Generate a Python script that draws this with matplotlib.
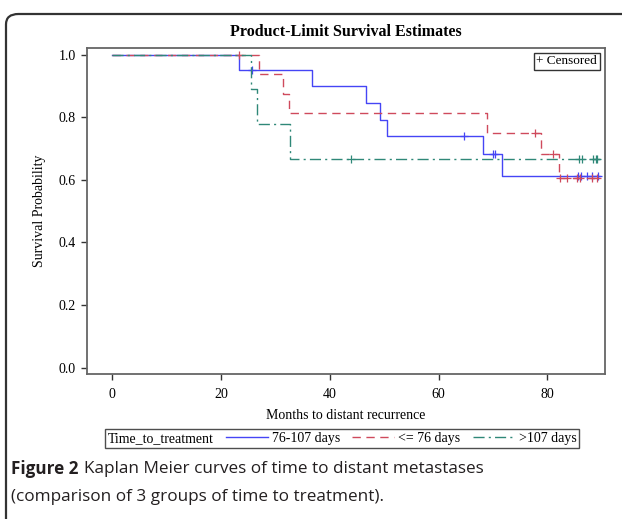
import numpy as np
import matplotlib.pyplot as plt
from matplotlib.lines import Line2D
from matplotlib.patches import FancyBboxPatch

# Kaplan-Meier step data (months, survival)
blue_t = [0, 23.3, 36.7, 46.6, 49.3, 50.5, 68.2, 71.6, 89.7]
blue_s = [1.0, 0.95, 0.90, 0.846, 0.792, 0.739, 0.682, 0.613, 0.613]
blue_cens = [25.8, 64.6, 70.1, 70.4, 85.7, 86.1, 87.2, 88.3, 89.3]

red_t = [0, 27.0, 31.5, 32.5, 69.0, 78.9, 82.2, 89.7]
red_s = [1.0, 0.9375, 0.875, 0.8125, 0.75, 0.682, 0.605, 0.605]
red_cens = [23.3, 77.8, 81.1, 82.4, 83.7, 85.4, 86.0, 88.3, 89.1]

teal_t = [0, 25.6, 26.6, 32.7, 89.7]
teal_s = [1.0, 0.889, 0.778, 0.667, 0.667]
teal_cens = [43.9, 85.9, 86.3, 88.4, 88.9, 89.2]

labels = ['76-107 days', '<= 76 days', '>107 days']
colors = ['#4545f5', '#cf4a5c', '#2f8878']
styles = ['-', (0, (6, 4)), (0, (8, 3, 1.5, 3))]

serif = 'Liberation Serif'

fig = plt.figure(figsize=(6.22, 5.19), dpi=100)
W, H = 622, 519

# outer rounded frame
frame = FancyBboxPatch((6 / W, -20 / H), 640 / W, (H - 14 + 20) / H,
                       boxstyle='round,pad=0,rounding_size=0.02',
                       transform=fig.transFigure, fc='none', ec='#333333', lw=1.6)
fig.patches.append(frame)

ax = fig.add_axes([87 / W, 1 - 374 / H, (605 - 87) / W, (374 - 48) / H])

def surv_at(t, s, x):
    idx = np.searchsorted(t, x, side='right') - 1
    return np.asarray(s)[idx]

lines = []
for t, s, c, col, ls, lab in [(blue_t, blue_s, blue_cens, colors[0], styles[0], labels[0]),
                               (red_t, red_s, red_cens, colors[1], styles[1], labels[1]),
                               (teal_t, teal_s, teal_cens, colors[2], styles[2], labels[2])]:
    ln, = ax.step(t, s, where='post', color=col, lw=1.0, linestyle=ls, label=lab)
    lines.append(ln)
    ax.plot(c, surv_at(t, s, c), linestyle='none', marker='+', color=col,
            markersize=6, markeredgewidth=0.9)

ax.set_xlim(-4.6, 90.6)
ax.set_ylim(-0.02, 1.021)
ax.set_xticks([0, 20, 40, 60, 80])
ax.set_yticks([0.0, 0.2, 0.4, 0.6, 0.8, 1.0])
ax.set_yticklabels(['0.0', '0.2', '0.4', '0.6', '0.8', '1.0'])
for sp in ax.spines.values():
    sp.set_color('#666666')
    sp.set_linewidth(1.3)
ax.tick_params(colors='#333333', labelsize=10, length=4, width=1, direction='out', pad=4)
ax.tick_params(axis='x', pad=6)
for lbl in ax.get_xticklabels() + ax.get_yticklabels():
    lbl.set_family(serif)
    lbl.set_color('black')

ax.set_title('Product-Limit Survival Estimates', fontsize=11.5, fontweight='bold',
             family=serif, pad=9)
ax.set_xlabel('Months to distant recurrence', fontsize=10, family=serif, labelpad=6)
ax.set_ylabel('Survival Probability', fontsize=10, family=serif, labelpad=9)

ax.text(0.985, 0.977, '+ Censored', transform=ax.transAxes, ha='right', va='top',
        fontsize=9.5, family=serif,
        bbox=dict(boxstyle='square,pad=0.2', fc='white', ec='#333333', lw=1))

blank = Line2D([], [], linestyle='none')
leg = fig.legend([blank] + lines, ['Time_to_treatment'] + labels, ncol=4,
                 loc='upper center', bbox_to_anchor=(342 / W, 1 - 429 / H),
                 prop={'family': serif, 'size': 10}, frameon=True, fancybox=False,
                 edgecolor='#222222', handlelength=3.0, handletextpad=0.3,
                 columnspacing=0.9, borderpad=0.2, borderaxespad=0)
leg.get_frame().set_linewidth(1.0)
# collapse the empty handle in front of the group name
try:
    col0 = leg._legend_handle_box.get_children()[0]
    row0 = col0.get_children()[0]
    row0.get_children()[0].width = 0
    row0.sep = 0
except Exception:
    pass

cap_style = dict(fontsize=12.3, family='Open Sans', color='#231f20')
cap1 = fig.text(11 / W, 1 - 469 / H, 'Figure 2', fontweight='bold', va='center', **cap_style)
ax.annotate('Kaplan Meier curves of time to distant metastases', xy=(1, 0.5),
            xycoords=cap1, xytext=(4, 0), textcoords='offset points',
            va='center', ha='left', annotation_clip=False, **cap_style)
fig.text(11 / W, 1 - 497 / H, '(comparison of 3 groups of time to treatment).',
         va='center', **cap_style)
fig.savefig('out.png', dpi=100)
